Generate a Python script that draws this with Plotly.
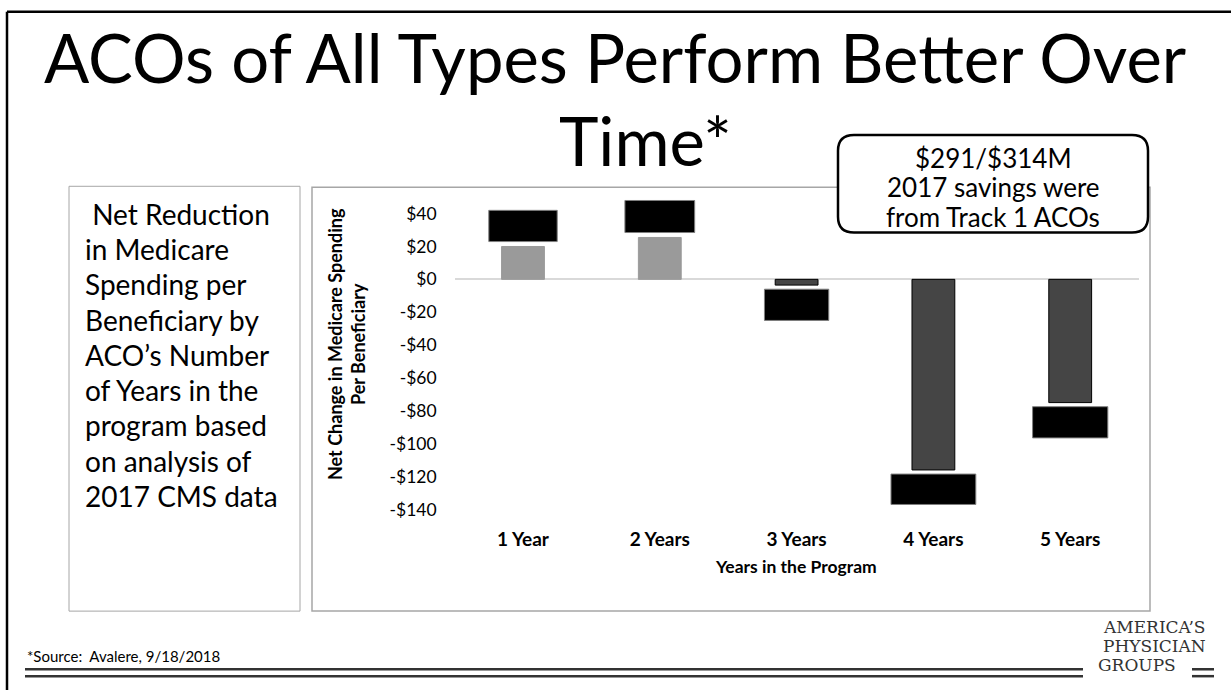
import plotly.graph_objects as go

W, H = 1231, 698

# ---- data ----
categories = ["1 Year", "2 Years", "3 Years", "4 Years", "5 Years"]
net_change = [20, 25.5, -3.5, -116, -75]
box_low = [23, 28.5, -25, -137, -96.5]
box_high = [42, 48, -6, -118.5, -77.5]
box_width = [0.50, 0.51, 0.47, 0.62, 0.55]
bar_colors = ["#9a9a9a", "#9a9a9a", "#454545", "#454545", "#454545"]
bar_line_colors = ["#9a9a9a", "#9a9a9a", "#000000", "#000000", "#000000"]
y_ticks = [40, 20, 0, -20, -40, -60, -80, -100, -120, -140]
y_tick_labels = ["$40", "$20", "$0", "-$20", "-$40", "-$60", "-$80", "-$100", "-$120", "-$140"]

FONT = "Lato, 'Open Sans', sans-serif"
SERIF = "'DejaVu Serif', 'Liberation Serif', serif"


def px(x):
    return x / W


def py(y):
    return 1 - y / H


# plot area in pixels
PL, PR = 454.6, 1138.6
Y_BOTTOM_VAL, Y_TOP_VAL = -140, 52
PB = 516.8
PPU = 1.667
PT = PB - (Y_TOP_VAL - Y_BOTTOM_VAL) * PPU

fig = go.Figure()

fig.add_trace(go.Bar(
    x=categories, y=net_change, width=[0.313] * len(categories),
    marker=dict(color=bar_colors, line=dict(color=bar_line_colors, width=1)),
    showlegend=False, hoverinfo="skip",
))
fig.add_trace(go.Bar(
    x=categories, y=[h - l for h, l in zip(box_high, box_low)], base=box_low,
    width=box_width,
    marker=dict(color="#000000", line=dict(color="#7f7f7f", width=1)),
    showlegend=False, hoverinfo="skip",
))

fig.update_layout(
    width=W, height=H, autosize=False,
    margin=dict(l=0, r=0, t=0, b=0),
    paper_bgcolor="white", plot_bgcolor="white",
    barmode="overlay",
    font=dict(family=FONT, color="black"),
    xaxis=dict(
        domain=[px(PL), px(PR)], showgrid=False, showline=False, zeroline=False,
        ticks="", tickfont=dict(family=FONT, size=19, color="black", weight="bold"),
        ticklabelstandoff=17,
    ),
    yaxis=dict(
        domain=[py(PB), py(PT)], range=[Y_BOTTOM_VAL, Y_TOP_VAL],
        showgrid=False, showline=False, zeroline=True, zerolinecolor="#d9d9d9",
        zerolinewidth=2, ticks="", tickvals=y_ticks, ticktext=y_tick_labels,
        tickfont=dict(family=FONT, size=17.5, color="black"), ticklabelstandoff=17,
    ),
)

shapes = []
# slide border
shapes.append(dict(type="line", xref="paper", yref="paper", x0=px(7), x1=px(7), y0=py(12), y1=py(700),
                   line=dict(color="black", width=2.5)))
shapes.append(dict(type="line", xref="paper", yref="paper", x0=px(7), x1=px(1235), y0=py(12), y1=py(12),
                   line=dict(color="black", width=2.5)))
# left text box
shapes.append(dict(type="rect", xref="paper", yref="paper", x0=px(69), x1=px(300), y0=py(189), y1=py(620),
                   line=dict(color="#a6a6a6", width=1), fillcolor="rgba(0,0,0,0)", layer="below"))
# chart box
shapes.append(dict(type="rect", xref="paper", yref="paper", x0=px(312), x1=px(1150), y0=py(190), y1=py(620),
                   line=dict(color="#a6a6a6", width=1.5), fillcolor="rgba(0,0,0,0)", layer="below"))
# callout rounded box
x0, x1, y0, y1, r = 838, 1148, 137, 236, 16


def P(x, y):
    return f"{px(x):.5f},{py(y):.5f}"


path = (f"M {P(x0 + r, y0)} L {P(x1 - r, y0)} Q {P(x1, y0)} {P(x1, y0 + r)} "
        f"L {P(x1, y1 - r)} Q {P(x1, y1)} {P(x1 - r, y1)} "
        f"L {P(x0 + r, y1)} Q {P(x0, y1)} {P(x0, y1 - r)} "
        f"L {P(x0, y0 + r)} Q {P(x0, y0)} {P(x0 + r, y0)} Z")
shapes.append(dict(type="path", xref="paper", yref="paper", path=path,
                   line=dict(color="black", width=2.5), fillcolor="white", layer="above"))
# bottom double lines
for yy in (679, 686):
    shapes.append(dict(type="line", xref="paper", yref="paper", x0=px(25), x1=px(1083), y0=py(yy), y1=py(yy),
                       line=dict(color="#333333", width=2.5)))
    shapes.append(dict(type="line", xref="paper", yref="paper", x0=px(1192), x1=px(1214), y0=py(yy), y1=py(yy),
                       line=dict(color="#333333", width=2.5)))
fig.update_layout(shapes=shapes)

ann = []


def add_text(text, x, y, size, xanchor="center", yanchor="middle", family=FONT, color="black",
             align="center", angle=0):
    ann.append(dict(text=text, x=px(x), y=py(y), xref="paper", yref="paper", showarrow=False,
                    xanchor=xanchor, yanchor=yanchor, align=align, textangle=angle, borderpad=0,
                    font=dict(family=family, size=size, color=color)))


add_text("ACOs of All Types Perform Better Over", 615, 58, 67)
add_text("Time*", 645, 142, 67)

left_lines = [" Net Reduction", "in Medicare", "Spending per", "Beneficiary by", "ACO’s Number",
              "of Years in the", "program based", "on analysis of", "2017 CMS data"]
for i, t in enumerate(left_lines):
    add_text(t.replace(" ", "&nbsp;", 1) if t.startswith(" ") else t, 84, 217 + i * 35.75, 28,
             xanchor="left", align="left")

callout_lines = ["$291/$314M", "2017 savings were", "from Track 1 ACOs"]
for i, t in enumerate(callout_lines):
    add_text(t, 993, 160 + i * 30, 26)

add_text("<b>Net Change in Medicare Spending<br>Per Beneficiary</b>", 346, 349, 18, angle=-90)
add_text("<b>Years in the Program</b>", 796, 575, 17.5)
add_text("*Source:  Avalere, 9/18/2018", 26, 666, 15, xanchor="left", align="left")

add_text("AMERICA’S", 1154, 636, 17, family=SERIF, color="#333333")
add_text("PHYSICIAN", 1154, 655.5, 17, family=SERIF, color="#333333")
add_text("GROUPS", 1137, 675, 17, family=SERIF, color="#333333")

fig.update_layout(annotations=ann)

fig.write_html("out.html")
